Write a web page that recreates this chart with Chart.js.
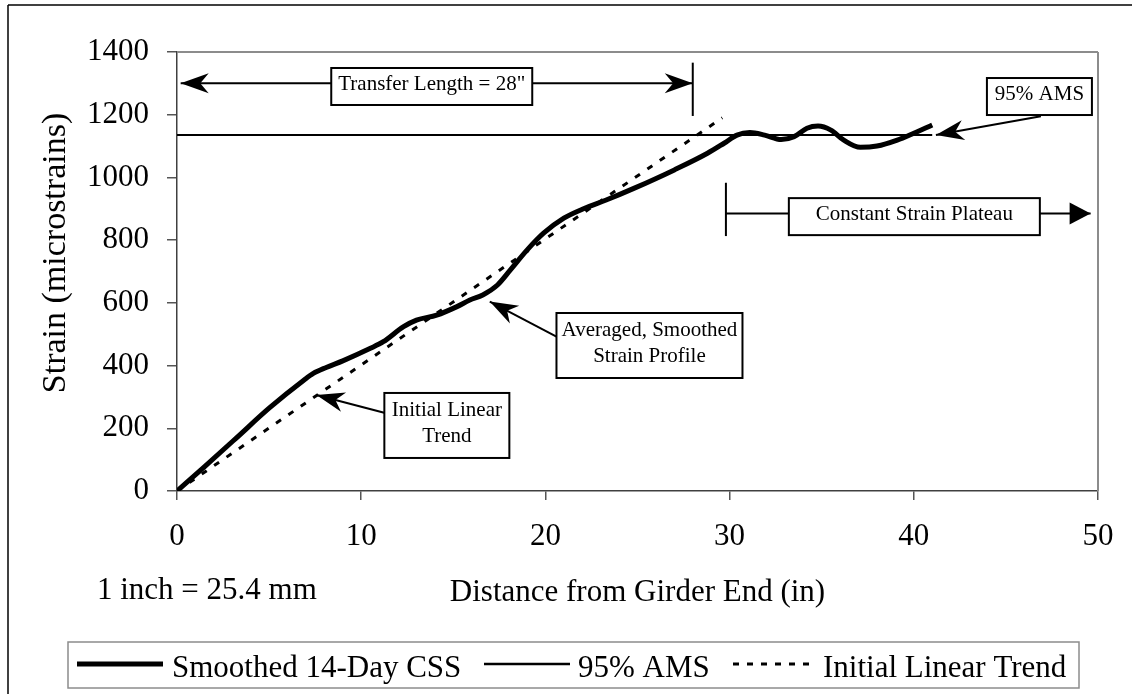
<!DOCTYPE html>
<html>
<head>
<meta charset="utf-8">
<script src="https://cdn.jsdelivr.net/npm/chart.js@4.4.1/dist/chart.umd.min.js"></script>
<style>
  body { margin: 0; background: #fff; }
  #wrap { width: 1132px; height: 694px; position: relative; }
</style>
</head>
<body>
<div id="wrap"><canvas id="strainChart"></canvas></div>
<script>
// Smoothed 14-day CSS profile
const distance = [0, 1.5, 3.2, 5.0, 6.9, 7.4, 8.1, 9.0, 10.5, 11.2, 12.3, 13.0, 14.1, 15.2, 15.9,
  16.6, 17.4, 18.1, 19.0, 19.9, 21.0, 22.1, 23.3, 24.8, 27.0, 28.8, 29.7, 30.4, 31.1, 31.9,
  32.8, 33.5, 34.2, 34.8, 35.5, 36.2, 37.1, 38.0, 39.1, 40.0, 41.0];
const strain = [0, 78, 168, 264, 354, 375, 394, 415, 455, 476, 524, 545, 561, 588, 609,
  625, 657, 705, 768, 822, 870, 901, 928, 965, 1024, 1077, 1109, 1135, 1143, 1135,
  1121, 1130, 1157, 1164, 1151, 1119, 1096, 1100, 1119, 1141, 1167];

const amsX = [0, 41];
const amsY = [1135, 1135];
const trendX = [0, 29.6];
const trendY = [0, 1190];

const xTicks = [0, 10, 20, 30, 40, 50];
const yTicks = [0, 200, 400, 600, 800, 1000, 1200, 1400];

const seriesNames = ['Smoothed 14-Day CSS', '95% AMS', 'Initial Linear Trend'];

// annotation call-outs (data coords for anchors)
const noteBoxes = [
  { lines: ['Transfer Length = 28"'], x: 13.83, y: 1290, w: 201, h: 37 },
  { lines: ['95% AMS'], x: 46.82, y: 1258, w: 105, h: 37 },
  { lines: ['Constant Strain Plateau'], x: 40.03, y: 875, w: 251, h: 37 },
  { lines: ['Averaged, Smoothed', 'Strain Profile'], x: 25.65, y: 464, w: 186, h: 65 },
  { lines: ['Initial Linear', 'Trend'], x: 14.65, y: 209, w: 125, h: 65 }
];
const noteArrows = [
  { from: [46.9, 1195], to: [41.2, 1135] },
  { from: [20.6, 492], to: [16.98, 604] },
  { from: [11.35, 248], to: [7.57, 306] }
];

const SERIF = "'Liberation Serif', 'Times New Roman', serif";

const toPoints = (xs, ys) => xs.map((v, i) => ({ x: v, y: ys[i] }));

function arrowHead(ctx, fx, fy, tx, ty, len, half, notch) {
  const a = Math.atan2(ty - fy, tx - fx);
  const dx = Math.cos(a), dy = Math.sin(a);
  const px = -dy, py = dx;
  const bx = tx - dx * len, by = ty - dy * len;
  ctx.beginPath();
  ctx.moveTo(tx, ty);
  ctx.lineTo(bx + px * half, by + py * half);
  ctx.lineTo(tx - dx * len * notch, ty - dy * len * notch);
  ctx.lineTo(bx - px * half, by - py * half);
  ctx.closePath();
  ctx.fill();
}

function line(ctx, x1, y1, x2, y2, w, dash) {
  ctx.beginPath();
  ctx.lineWidth = w;
  ctx.setLineDash(dash || []);
  ctx.moveTo(x1, y1);
  ctx.lineTo(x2, y2);
  ctx.stroke();
  ctx.setLineDash([]);
}

const decor = {
  id: 'decor',
  afterDraw(chart) {
    const ctx = chart.ctx;
    const { x, y } = chart.scales;
    const area = chart.chartArea;
    const X = v => x.getPixelForValue(v);
    const Y = v => y.getPixelForValue(v);
    ctx.save();
    ctx.strokeStyle = '#000';
    ctx.fillStyle = '#000';

    // outer frame (left + top visible)
    line(ctx, 8, 5, 8, 694, 1.5);
    line(ctx, 8, 5, 1132, 5, 1.5);

    // plot area top/right border
    ctx.strokeStyle = '#8c8c8c';
    line(ctx, area.left, area.top, area.right, area.top, 2);
    line(ctx, area.right, area.top, area.right, area.bottom, 2);
    ctx.strokeStyle = '#000';

    // transfer length arrow
    line(ctx, X(0.2), Y(1300), X(28), Y(1300), 2);
    arrowHead(ctx, X(28), Y(1300), X(0.2), Y(1300), 28, 10, 0.7);
    arrowHead(ctx, X(0.2), Y(1300), X(28), Y(1300), 28, 10, 0.7);
    line(ctx, X(28), Y(1366), X(28), Y(1196), 2);

    // constant strain plateau arrow
    line(ctx, X(29.8), Y(983), X(29.8), Y(813), 2);
    line(ctx, X(29.8), Y(885), X(49.6), Y(885), 2);
    arrowHead(ctx, X(29.8), Y(885), X(49.6), Y(885), 21, 11, 1);

    // pointer arrows
    noteArrows.forEach(a => {
      const fx = X(a.from[0]), fy = Y(a.from[1]), tx = X(a.to[0]), ty = Y(a.to[1]);
      line(ctx, fx, fy, tx, ty, 2);
      arrowHead(ctx, fx, fy, tx, ty, 28, 10, 0.7);
    });

    // call-out boxes
    ctx.font = '21px ' + SERIF;
    ctx.textAlign = 'center';
    ctx.textBaseline = 'middle';
    noteBoxes.forEach(b => {
      const cx = X(b.x), cy = Y(b.y);
      ctx.fillStyle = '#fff';
      ctx.fillRect(cx - b.w / 2, cy - b.h / 2, b.w, b.h);
      ctx.lineWidth = 2;
      ctx.strokeRect(cx - b.w / 2, cy - b.h / 2, b.w, b.h);
      ctx.fillStyle = '#000';
      const n = b.lines.length;
      b.lines.forEach((t, i) => {
        ctx.fillText(t, cx, cy - 2 + (i - (n - 1) / 2) * 26);
      });
    });

    // axis titles and unit note
    ctx.font = '31px ' + SERIF;
    ctx.textBaseline = 'alphabetic';
    ctx.textAlign = 'center';
    ctx.fillText('Distance from Girder End (in)', (area.left + area.right) / 2, 601);
    ctx.textAlign = 'left';
    ctx.fillText('1 inch = 25.4 mm', 97, 599);

    ctx.save();
    ctx.translate(56, 253);
    ctx.rotate(-Math.PI / 2);
    ctx.font = '34px ' + SERIF;
    ctx.textAlign = 'center';
    ctx.textBaseline = 'middle';
    ctx.fillText('Strain (microstrains)', 0, 0);
    ctx.restore();

    // legend
    ctx.strokeStyle = '#8c8c8c';
    ctx.lineWidth = 1.5;
    ctx.strokeRect(68, 642, 1011, 46);
    ctx.strokeStyle = '#000';
    const ly = 664;
    line(ctx, 77, ly, 163, ly, 5);
    line(ctx, 484, ly, 570, ly, 2.5);
    line(ctx, 733, ly, 813, ly, 3, [6, 8]);
    ctx.font = '31px ' + SERIF;
    ctx.textAlign = 'left';
    ctx.textBaseline = 'alphabetic';
    ctx.fillText(seriesNames[0], 172, 677);
    ctx.fillText(seriesNames[1], 578, 677);
    ctx.fillText(seriesNames[2], 823, 677);
    ctx.restore();
  }
};

const tickFont = { family: SERIF, size: 31 };

new Chart(document.getElementById('strainChart'), {
  type: 'line',
  data: {
    datasets: [
      {
        label: seriesNames[0],
        data: toPoints(distance, strain),
        borderColor: '#000',
        borderWidth: 5,
        pointRadius: 0,
        cubicInterpolationMode: 'monotone'
      },
      {
        label: seriesNames[1],
        data: toPoints(amsX, amsY),
        borderColor: '#000',
        borderWidth: 2,
        pointRadius: 0
      },
      {
        label: seriesNames[2],
        data: toPoints(trendX, trendY),
        borderColor: '#000',
        borderWidth: 3,
        borderDash: [6, 9],
        pointRadius: 0
      }
    ]
  },
  options: {
    responsive: true,
    maintainAspectRatio: false,
    animation: false,
    layout: { padding: { top: 52, right: 34, left: 0, bottom: 0 } },
    plugins: { legend: { display: false }, tooltip: { enabled: false } },
    scales: {
      x: {
        type: 'linear',
        min: 0,
        max: 50,
        afterBuildTicks: s => { s.ticks = xTicks.map(v => ({ value: v })); },
        afterFit: s => { s.height = 203; },
        ticks: { font: tickFont, color: '#000', padding: 18, maxRotation: 0, callback: v => String(v) },
        grid: { drawOnChartArea: false, drawTicks: true, tickLength: 9, color: '#555', lineWidth: 1.5 },
        border: { display: true, color: '#404040', width: 1.5 }
      },
      y: {
        type: 'linear',
        min: 0,
        max: 1400,
        afterBuildTicks: s => { s.ticks = yTicks.map(v => ({ value: v })); },
        afterFit: s => { s.width = 177; },
        ticks: { font: tickFont, color: '#000', padding: 18, callback: v => String(v) },
        grid: { drawOnChartArea: false, drawTicks: true, tickLength: 10, color: '#555', lineWidth: 1.5 },
        border: { display: true, color: '#404040', width: 1.5 }
      }
    }
  },
  plugins: [decor]
});
</script>
</body>
</html>
